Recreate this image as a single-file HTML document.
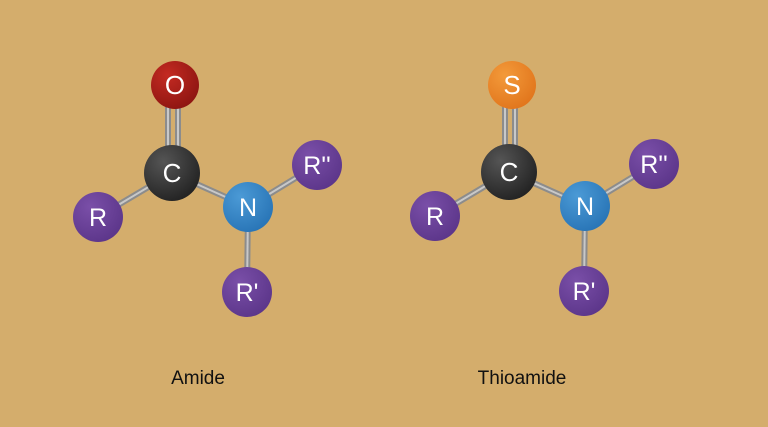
<!DOCTYPE html>
<html><head><style>
html,body{margin:0;padding:0;background:#d4ad6c;}
svg{display:block;}
text{font-family:"Liberation Sans",sans-serif;}
</style></head><body>
<svg width="768" height="427" viewBox="0 0 768 427" xmlns="http://www.w3.org/2000/svg">
<defs>
<radialGradient id="gk" cx="0.35" cy="0.3" r="0.8"><stop offset="0" stop-color="#555"/><stop offset="1" stop-color="#1f1f1f"/></radialGradient>
<radialGradient id="gr" cx="0.35" cy="0.3" r="0.8"><stop offset="0" stop-color="#c42a22"/><stop offset="1" stop-color="#8a1410"/></radialGradient>
<radialGradient id="go" cx="0.35" cy="0.3" r="0.8"><stop offset="0" stop-color="#f39a3a"/><stop offset="1" stop-color="#e0731a"/></radialGradient>
<radialGradient id="gb" cx="0.35" cy="0.3" r="0.8"><stop offset="0" stop-color="#4b9ad6"/><stop offset="1" stop-color="#2672b4"/></radialGradient>
<radialGradient id="gp" cx="0.35" cy="0.3" r="0.8"><stop offset="0" stop-color="#7a4fa8"/><stop offset="1" stop-color="#5a3488"/></radialGradient>
<g id="mol">
<g stroke="#8c8c8c" stroke-width="6" stroke-linecap="round">
<line x1="168" y1="100" x2="168" y2="150"/><line x1="178" y1="100" x2="178" y2="150"/>
<line x1="172" y1="173" x2="98" y2="217"/>
<line x1="172" y1="173" x2="248" y2="207"/>
<line x1="248" y1="207" x2="317" y2="165"/>
<line x1="248" y1="207" x2="247" y2="292"/>
</g>
<g stroke="#c8c8c8" stroke-width="2">
<line x1="168" y1="100" x2="168" y2="150"/><line x1="178" y1="100" x2="178" y2="150"/>
<line x1="172" y1="173" x2="98" y2="217"/>
<line x1="172" y1="173" x2="248" y2="207"/>
<line x1="248" y1="207" x2="317" y2="165"/>
<line x1="248" y1="207" x2="247" y2="292"/>
</g>
<circle cx="172" cy="173" r="28" fill="url(#gk)"/>
<text x="172" y="182" font-size="26" fill="#fff" text-anchor="middle">C</text>
<circle cx="98" cy="217" r="25" fill="url(#gp)"/>
<text x="98" y="226" font-size="25" fill="#fff" text-anchor="middle">R</text>
<circle cx="248" cy="207" r="25" fill="url(#gb)"/>
<text x="248" y="216" font-size="25" fill="#fff" text-anchor="middle">N</text>
<circle cx="317" cy="165" r="25" fill="url(#gp)"/>
<text x="317" y="174" font-size="25" fill="#fff" text-anchor="middle">R''</text>
<circle cx="247" cy="292" r="25" fill="url(#gp)"/>
<text x="247" y="301" font-size="25" fill="#fff" text-anchor="middle">R'</text>
</g>
</defs>
<use href="#mol"/>
<circle cx="175" cy="85" r="24" fill="url(#gr)"/>
<text x="175" y="94" font-size="26" fill="#fff" text-anchor="middle">O</text>
<text x="198" y="384" font-size="19" fill="#111" text-anchor="middle">Amide</text>
<use href="#mol" transform="translate(337,-1)"/>
<circle cx="512" cy="85" r="24" fill="url(#go)"/>
<text x="512" y="94" font-size="26" fill="#fff" text-anchor="middle">S</text>
<text x="522" y="384" font-size="19" fill="#111" text-anchor="middle">Thioamide</text>
</svg>
</body></html>
